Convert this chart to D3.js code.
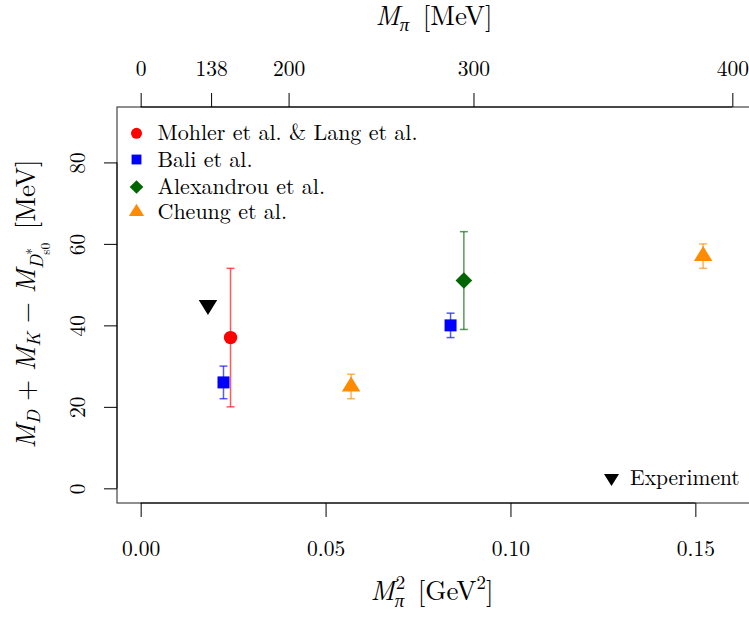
<!DOCTYPE html>
<html>
<head>
<meta charset="utf-8">
<script src="https://cdn.jsdelivr.net/npm/d3@7"></script>
<style>
  html, body { margin: 0; padding: 0; background: #fff; }
  svg { display: block; }
  svg text { font-family: "Latin Modern Roman", "Liberation Serif", serif; }
</style>
</head>
<body>
<script>
// ---- data ----
const seriesNames = ["Mohler et al. & Lang et al.", "Bali et al.", "Alexandrou et al.", "Cheung et al."];
const seriesColors = ["#ff0000", "#0000ff", "#006400", "#ff8c00"];
const mohlerX = [0.0243], mohlerY = [37], mohlerErr = [17];
const baliX = [0.0224, 0.0838], baliY = [26, 40], baliErr = [4, 3];
const alexX = [0.0874], alexY = [51], alexErr = [12];
const cheungX = [0.0569, 0.1521], cheungY = [25, 57], cheungErr = [3, 3];
const expX = [0.0182], expY = [45];
const bottomTicks = [0.00, 0.05, 0.10, 0.15];
const bottomTickLabels = ["0.00", "0.05", "0.10", "0.15"];
const topTicksMeV = [0, 138, 200, 300, 400];
const leftTicks = [0, 20, 40, 60, 80];

// ---- layout ----
const W = 749, H = 617;
const L = 117, R = 756, T = 107, B = 503;
const FF = '"Latin Modern Roman", "Liberation Serif", serif';
const svg = d3.select("body").append("svg").attr("width", W).attr("height", H);

const x = d3.scaleLinear().domain([-0.0064, 0.1664]).range([L, R]);
const y = d3.scaleLinear().domain([-3.6, 93.6]).range([B, T]);

const tickFont = 21.5, titleFont = 27, legendFont = 22;

function txt(parent) {
  return parent.append("text").style("font-family", FF).attr("fill", "#000");
}

// box
svg.append("rect").attr("x", L).attr("y", T).attr("width", R - L).attr("height", B - T)
  .attr("fill", "none").attr("stroke", "#444").attr("stroke-width", 1.2);

// bottom axis
const gB = svg.append("g").attr("transform", `translate(0,${B})`)
  .call(d3.axisBottom(x).tickValues(bottomTicks).tickSize(14).tickFormat(""));
gB.select(".domain").attr("d", `M${x(0)},0H${x(0.15)}`).attr("stroke", "#000");
txt(gB.selectAll(".tick")).attr("y", 53).attr("text-anchor", "middle")
  .attr("font-size", tickFont).text((d, i) => bottomTickLabels[i]);

// top axis (pion mass in MeV, placed at M_pi^2 in GeV^2)
const topPos = m => x((m / 1000) * (m / 1000));
const gT = svg.append("g").attr("transform", `translate(0,${T})`)
  .call(d3.axisTop(x).tickValues(topTicksMeV.map(m => (m / 1000) ** 2)).tickSize(14).tickFormat(""));
gT.select(".domain").attr("d", `M${topPos(0)},0H${topPos(400)}`).attr("stroke", "#000");
txt(gT.selectAll(".tick")).attr("y", -31).attr("text-anchor", "middle")
  .attr("font-size", tickFont).text((d, i) => topTicksMeV[i]);

// left axis
const gL = svg.append("g").attr("transform", `translate(${L},0)`)
  .call(d3.axisLeft(y).tickValues(leftTicks).tickSize(13).tickFormat(""));
gL.select(".domain").attr("d", `M0,${y(0)}V${y(80)}`).attr("stroke", "#000");
txt(gL.selectAll(".tick"))
  .attr("transform", "translate(-32,0) rotate(-90)")
  .attr("text-anchor", "middle").attr("font-size", tickFont).text(d => d);

// ---- math-text helper ----
function mathText(sel, runs, base) {
  let prev = 0;
  runs.forEach(r => {
    const shift = (r.shift || 0) * base;
    const ts = sel.append("tspan").text(r.t)
      .attr("font-size", base * (r.scale || 1))
      .attr("dy", shift - prev);
    if (r.it) ts.attr("font-style", "italic");
    if (r.dx) ts.attr("dx", r.dx);
    prev = shift;
  });
}

// top title
mathText(txt(svg).attr("x", 434).attr("y", 25).attr("text-anchor", "middle"), [
  { t: "M", it: true }, { t: "π", it: true, scale: 0.7, shift: 0.22 }, { t: "\u2002[MeV]" }
], titleFont);

// bottom title (superscript 2 stacked over subscript pi)
const bt = txt(svg).attr("x", 432).attr("y", 600).attr("text-anchor", "middle");
mathText(bt, [
  { t: "M", it: true }, { t: "π", it: true, scale: 0.7, shift: 0.25 },
  { t: "\u2002[GeV" }, { t: "2", scale: 0.7, shift: -0.4 }, { t: "]" }
], titleFont);
{
  const px = bt.node().getStartPositionOfChar(1).x;
  txt(svg).attr("x", px + 1).attr("y", 600 - 0.4 * titleFont).attr("font-size", titleFont * 0.7).text("2");
}

// y title
const yg = svg.append("g").attr("transform", "translate(35,304) rotate(-90)");
const yt = txt(yg).attr("x", 0).attr("y", 0).attr("text-anchor", "middle");
mathText(yt, [
  { t: "M", it: true }, { t: "D", it: true, scale: 0.7, shift: 0.2 },
  { t: " + " }, { t: "M", it: true }, { t: "K", it: true, scale: 0.7, shift: 0.2 },
  { t: " \u2212 " }, { t: "M", it: true }, { t: "D", it: true, scale: 0.7, shift: 0.3 },
  { t: "s0", scale: 0.5, shift: 0.55 },
  { t: "\u2002[MeV]" }
], titleFont);
{
  const full = "MD + MK \u2212 MD";
  const p = yt.node().getStartPositionOfChar(full.length);
  txt(yg).attr("x", p.x).attr("y", 0.02 * titleFont).attr("font-size", titleFont * 0.5).text("*");
}

// ---- marker shapes ----
function tri(w, h, down) {
  const a = down ? -1 : 1;
  return `M0,${-a * 2 * h / 3}L${w / 2},${a * h / 3}L${-w / 2},${a * h / 3}Z`;
}
const shapes = [
  s => `M${-6.7 * s},0a${6.7 * s},${6.7 * s} 0 1,0 ${13.4 * s},0a${6.7 * s},${6.7 * s} 0 1,0 ${-13.4 * s},0Z`,
  s => `M${-6 * s},${-6 * s}h${12 * s}v${12 * s}h${-12 * s}Z`,
  s => `M0,${-8.3 * s}L${8.3 * s},0L0,${8.3 * s}L${-8.3 * s},0Z`,
  s => tri(18.5 * s, 15 * s, false)
];

const allSeries = [
  { xs: mohlerX, ys: mohlerY, es: mohlerErr },
  { xs: baliX, ys: baliY, es: baliErr },
  { xs: alexX, ys: alexY, es: alexErr },
  { xs: cheungX, ys: cheungY, es: cheungErr }
];

const plot = svg.append("g");
allSeries.forEach((s, k) => {
  const data = s.xs.map((v, i) => ({ x: v, y: s.ys[i], e: s.es[i] }));
  const g = plot.append("g");
  const eb = g.selectAll("g.eb").data(data).join("g")
    .attr("stroke", seriesColors[k]).attr("stroke-opacity", 0.65).attr("stroke-width", 1.5);
  eb.append("line").attr("x1", d => x(d.x)).attr("x2", d => x(d.x))
    .attr("y1", d => y(d.y - d.e)).attr("y2", d => y(d.y + d.e));
  eb.append("line").attr("x1", d => x(d.x) - 4).attr("x2", d => x(d.x) + 4)
    .attr("y1", d => y(d.y - d.e)).attr("y2", d => y(d.y - d.e));
  eb.append("line").attr("x1", d => x(d.x) - 4).attr("x2", d => x(d.x) + 4)
    .attr("y1", d => y(d.y + d.e)).attr("y2", d => y(d.y + d.e));
  g.selectAll("path").data(data).join("path")
    .attr("transform", d => `translate(${x(d.x)},${y(d.y)})`)
    .attr("d", shapes[k](1)).attr("fill", seriesColors[k]);
});

// experiment
plot.selectAll("path.exp").data(expX.map((v, i) => ({ x: v, y: expY[i] }))).join("path")
  .attr("class", "exp")
  .attr("transform", d => `translate(${x(d.x)},${y(d.y)})`)
  .attr("d", tri(18.5, 15, true)).attr("fill", "#000");

// ---- legends ----
const leg = svg.append("g");
const legY = [133.3, 159.5, 187, 212];
seriesNames.forEach((n, k) => {
  leg.append("path").attr("transform", `translate(136.5,${legY[k]})`)
    .attr("d", shapes[k](0.82)).attr("fill", seriesColors[k]);
  txt(leg).attr("x", 157.5).attr("y", legY[k] + 7).attr("font-size", legendFont).text(n);
});
leg.append("path").attr("transform", "translate(611.5,478)").attr("d", tri(15, 12, true)).attr("fill", "#000");
txt(leg).attr("x", 630).attr("y", 485).attr("font-size", 21.5).text("Experiment");
</script>
</body>
</html>
